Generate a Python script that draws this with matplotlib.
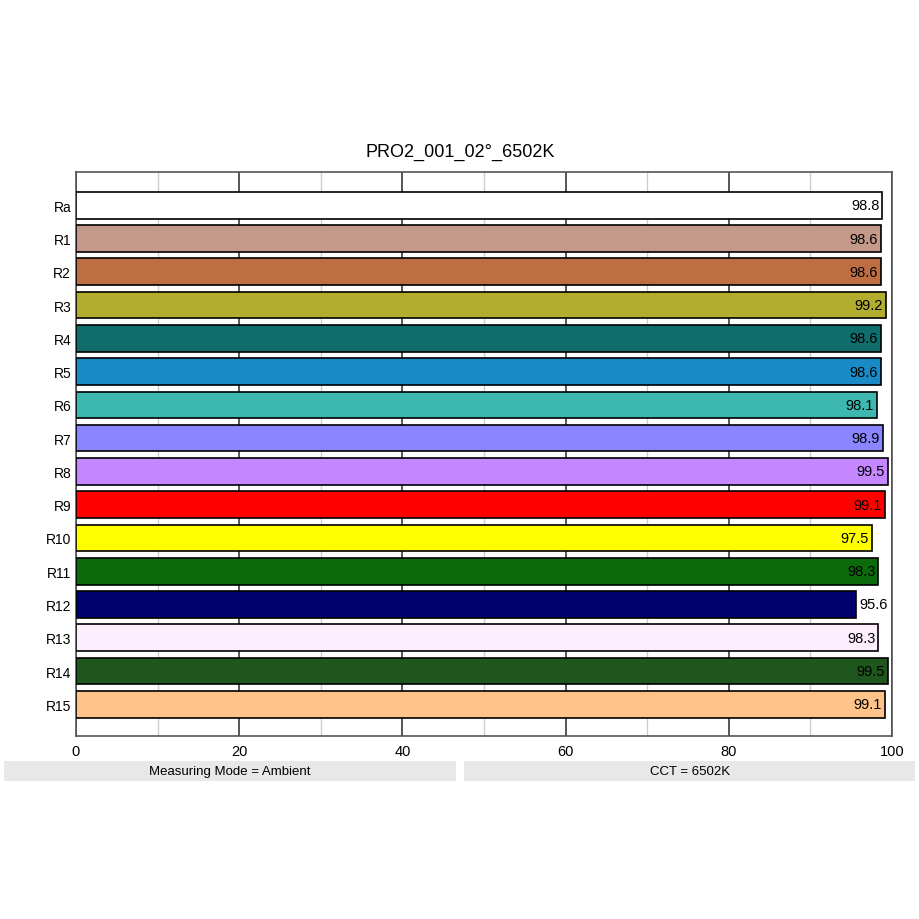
import matplotlib
matplotlib.use("Agg")
import matplotlib.pyplot as plt
import numpy as np
from matplotlib.patches import Rectangle

plt.rcParams['font.family'] = ['Liberation Sans', 'DejaVu Sans']

labels = ["Ra", "R1", "R2", "R3", "R4", "R5", "R6", "R7",
          "R8", "R9", "R10", "R11", "R12", "R13", "R14", "R15"]
values = [98.8, 98.6, 98.6, 99.2, 98.6, 98.6, 98.1, 98.9,
          99.5, 99.1, 97.5, 98.3, 95.6, 98.3, 99.5, 99.1]
colors = ["#ffffff", "#c4998a", "#bd6e42", "#b3ad2f", "#0f6e6c", "#1a8ac6",
          "#3cb8b0", "#8a86ff", "#c487ff", "#ff0000", "#ffff00", "#0b6a0b",
          "#00006e", "#fdeefd", "#1e561e", "#ffc38a"]
title = "PRO2_001_02°_6502K"
footer_left = "Measuring Mode = Ambient"
footer_right = "CCT = 6502K"

fig = plt.figure(figsize=(9.2, 9.2), dpi=100)
ax = fig.add_axes([0.0826, 0.199, 0.887, 0.613])

ypos = np.arange(len(labels))
ax.barh(ypos, values, height=0.8, color=colors, edgecolor="black",
        linewidth=1.2, zorder=3)

for y, v in zip(ypos, values):
    if v >= 97:
        ax.text(v - 0.35, y, f"{v}", ha="right", va="center", fontsize=10.5, zorder=4)
    else:
        ax.text(v + 0.4, y, f"{v}", ha="left", va="center", fontsize=10.5, zorder=4)

ax.set_xlim(0, 100)
ax.set_ylim(15.95, -1)
ax.set_yticks(ypos)
ax.set_yticklabels(labels, fontsize=10)
ax.set_xticks([0, 20, 40, 60, 80, 100])
ax.set_xticks([10, 30, 50, 70, 90], minor=True)
ax.tick_params(axis="both", which="both", length=0)
ax.tick_params(axis="x", pad=6, labelsize=10.5)
ax.tick_params(axis="y", pad=3.5)
ax.grid(axis="x", which="major", color="#3a3a3a", linewidth=1.2, zorder=0)
ax.grid(axis="x", which="minor", color="#cccccc", linewidth=1.0, zorder=0)
for s in ax.spines.values():
    s.set_color("#555555")
    s.set_linewidth(1.2)

fig.text(0.5, 0.834, title, ha="center", va="center", fontsize=13)

fig.patches.append(Rectangle((4 / 920, 1 - 782 / 920), 452 / 920, 20 / 920,
                             transform=fig.transFigure, facecolor="#e8e8e8",
                             edgecolor="none"))
fig.patches.append(Rectangle((464 / 920, 1 - 782 / 920), 451 / 920, 20 / 920,
                             transform=fig.transFigure, facecolor="#e8e8e8",
                             edgecolor="none"))
fig.text(230 / 920, 1 - 772 / 920, footer_left, ha="center", va="center", fontsize=9.5)
fig.text(690 / 920, 1 - 772 / 920, footer_right, ha="center", va="center", fontsize=9.5)

fig.savefig("out.png", dpi=100)
